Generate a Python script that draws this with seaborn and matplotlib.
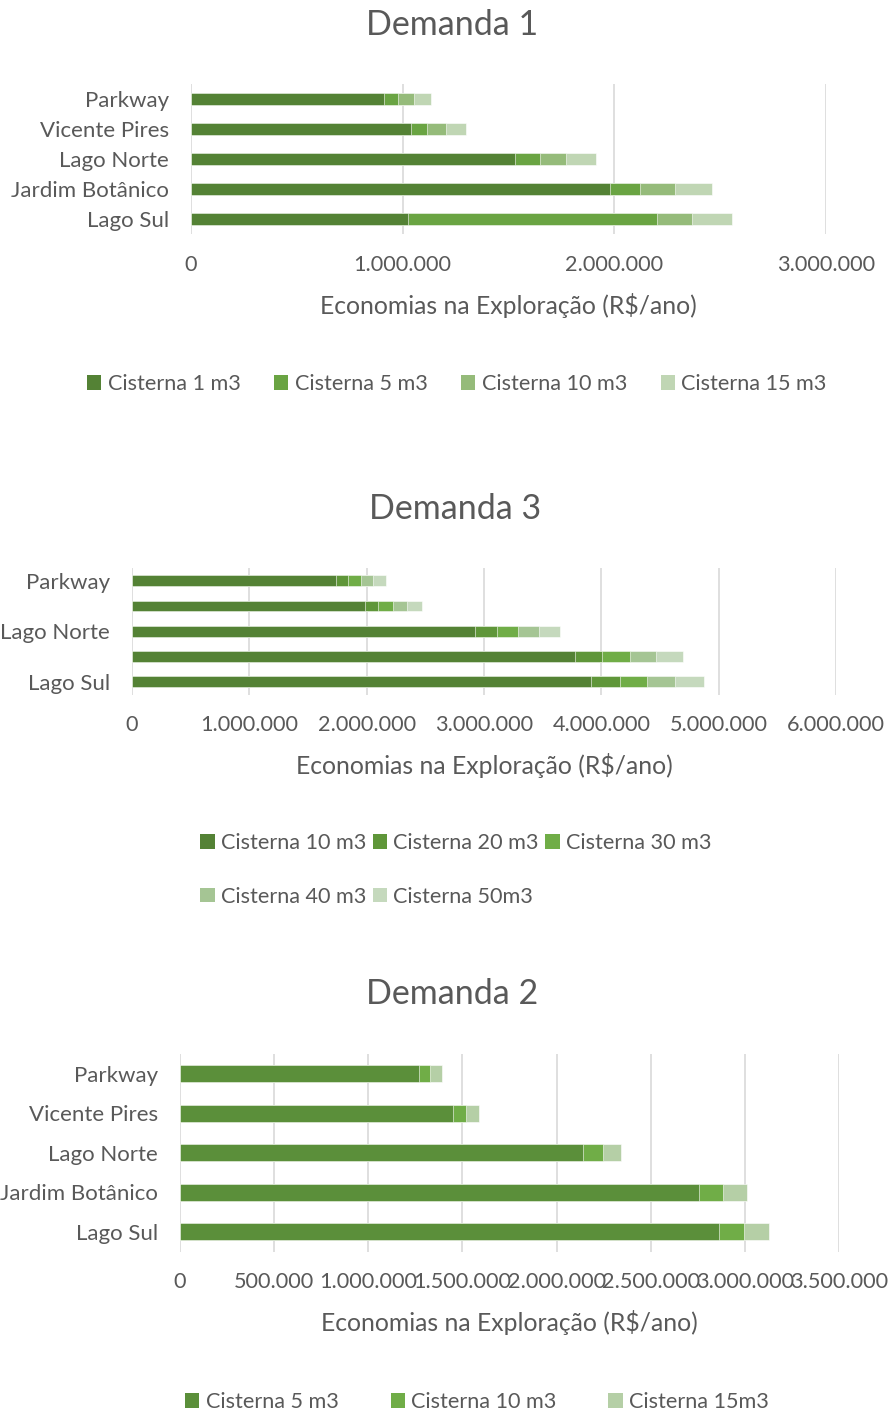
import numpy as np
import pandas as pd
import matplotlib
matplotlib.use("Agg")
import matplotlib.pyplot as plt
from matplotlib.patches import Patch
from matplotlib.ticker import FuncFormatter
import seaborn as sns

# =============================================================================
# Data (R$/ano)
# =============================================================================
BAIRROS = ["Parkway", "Vicente Pires", "Lago Norte", "Jardim Botânico", "Lago Sul"]

# --- Demanda 1 ---
D1_SERIES = ["Cisterna 1 m3", "Cisterna 5 m3", "Cisterna 10 m3", "Cisterna 15 m3"]
D1_C1 = [912000, 1038000, 1533000, 1979000, 1024000]
D1_C5 = [68000, 79000, 114000, 142000, 1178000]
D1_C10 = [75000, 86000, 124000, 164000, 166000]
D1_C15 = [80000, 94000, 142000, 177000, 189000]

# --- Demanda 3 ---
D3_SERIES = ["Cisterna 10 m3", "Cisterna 20 m3", "Cisterna 30 m3", "Cisterna 40 m3", "Cisterna 50m3"]
D3_LABELS = ["Parkway", "", "Lago Norte", "", "Lago Sul"]
D3_C10 = [1736000, 1982000, 2920000, 3773000, 3911000]
D3_C20 = [108000, 118000, 189000, 233000, 249000]
D3_C30 = [108000, 128000, 179000, 236000, 233000]
D3_C40 = [105000, 118000, 179000, 223000, 239000]
D3_C50 = [111000, 125000, 179000, 233000, 239000]

# --- Demanda 2 ---
D2_SERIES = ["Cisterna 5 m3", "Cisterna 10 m3", "Cisterna 15m3"]
D2_C5 = [1271000, 1452000, 2143000, 2754000, 2861000]
D2_C10 = [59000, 67000, 101000, 132000, 132000]
D2_C15 = [63000, 69000, 99000, 128000, 134000]

# =============================================================================
# Style
# =============================================================================
D1_COLORS = ["#548235", "#6AA443", "#95BB7A", "#C0D6B4"]
D3_COLORS = ["#548235", "#5F9639", "#70AD47", "#A5C594", "#C5D9BD"]
D2_COLORS = ["#5B8F3A", "#70AD47", "#B5CFA6"]
TEXT_COLOR = "#595959"
GRID_COLOR = "#D9D9D9"
FONT = ["Lato", "DejaVu Sans"]
FS_Y = 16.0      # category labels
FS_X = 15.6      # value tick labels
FS_LABEL = 17.8  # axis title
FS_LEG = 15.6
FS_TITLE = 24.5

W, H = 889, 1414
sns.set_theme(style="white")
plt.rcParams["font.family"] = FONT


def dot_thousands(v, _pos):
    return f"{int(round(v)):,}".replace(",", ".")


def px_axes(fig, left, right, top, bottom):
    return fig.add_axes([left / W, 1 - bottom / H, (right - left) / W, (bottom - top) / H])


def stacked_barh(ax, series_values, colors, xmax, xstep, ticklabels):
    cum = np.cumsum(np.array(series_values), axis=0)
    # draw the totals first, then overdraw the smaller partial sums
    for i in range(len(series_values) - 1, -1, -1):
        df = pd.DataFrame({"bairro": BAIRROS, "valor": cum[i]})
        sns.barplot(data=df, x="valor", y="bairro", order=BAIRROS, orient="h",
                    color=colors[i], width=0.43, saturation=1, ax=ax,
                    edgecolor="white", linewidth=0.4)
    ax.set_xlim(0, xmax)
    ax.set_ylim(4.5, -0.5)
    ax.set_xticks(np.arange(0, xmax + 1, xstep))
    ax.xaxis.set_major_formatter(FuncFormatter(dot_thousands))
    ax.set_yticks(range(len(BAIRROS)))
    ax.set_yticklabels(ticklabels)
    ax.grid(axis="x", color=GRID_COLOR, linewidth=1.2)
    ax.set_axisbelow(True)
    for s in ax.spines.values():
        s.set_visible(False)
    ax.tick_params(axis="both", length=0, labelcolor=TEXT_COLOR)
    ax.tick_params(axis="y", pad=16, labelsize=FS_Y)
    ax.tick_params(axis="x", pad=15, labelsize=FS_X)
    ax.set_ylabel("")
    ax.set_xlabel("Economias na Exploração (R$/ano)", fontsize=FS_LABEL,
                  color=TEXT_COLOR, labelpad=13)


def legend(fig, labels, colors, cx, cy, ncol, order=None, **kw):
    handles = [Patch(facecolor=c, edgecolor="none") for c in colors]
    if order is not None:
        handles = [handles[i] for i in order]
        labels = [labels[i] for i in order]
    leg = fig.legend(handles, labels, loc="center", bbox_to_anchor=(cx / W, 1 - cy / H),
                     ncol=ncol, frameon=False, fontsize=FS_LEG, handlelength=0.65,
                     handleheight=0.65, handletextpad=0.3, **kw)
    for t in leg.get_texts():
        t.set_color(TEXT_COLOR)
    return leg


def title(fig, cx, cy, text):
    fig.text(cx / W, 1 - cy / H, text, ha="center", va="center",
             fontsize=FS_TITLE, color=TEXT_COLOR)


fig = plt.figure(figsize=(W / 100, H / 100), dpi=100)

# --- Demanda 1 ---
ax1 = px_axes(fig, 191, 826, 84, 234)
stacked_barh(ax1, [D1_C1, D1_C5, D1_C10, D1_C15], D1_COLORS, 3000000, 1000000, BAIRROS)
title(fig, 452, 25, "Demanda 1")
legend(fig, D1_SERIES, D1_COLORS, 457, 384, 4, columnspacing=1.55)

# --- Demanda 3 ---
ax3 = px_axes(fig, 132, 836, 568, 694.5)
stacked_barh(ax3, [D3_C10, D3_C20, D3_C30, D3_C40, D3_C50], D3_COLORS, 6000000, 1000000, D3_LABELS)
title(fig, 455, 509, "Demanda 3")
legend(fig, D3_SERIES, D3_COLORS, 456, 870, 3, order=[0, 3, 1, 4, 2],
       columnspacing=0.3, labelspacing=1.55)

# --- Demanda 2 ---
ax2 = px_axes(fig, 180, 839, 1054, 1251.5)
stacked_barh(ax2, [D2_C5, D2_C10, D2_C15], D2_COLORS, 3500000, 500000, BAIRROS)
title(fig, 452, 994, "Demanda 2")
legend(fig, D2_SERIES, D2_COLORS, 477, 1402, 3, columnspacing=2.4)

fig.savefig("out.png", dpi=100)
